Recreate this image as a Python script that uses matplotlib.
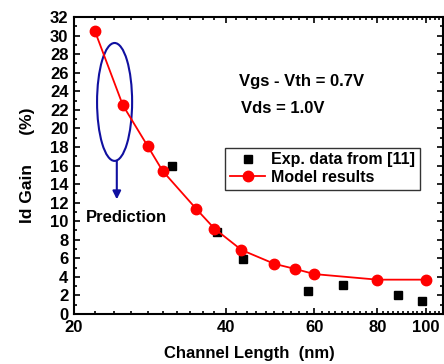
import matplotlib
matplotlib.use("Agg")
import matplotlib.pyplot as plt
from matplotlib.patches import Ellipse
from matplotlib.ticker import FixedLocator, FixedFormatter, NullFormatter, MultipleLocator

plt.rcParams['font.family'] = ['Liberation Sans', 'DejaVu Sans']
plt.rcParams['font.weight'] = 'bold'

# Donnees
model_L = [22, 25, 28, 30, 35, 38, 43, 50, 55, 60, 80, 100]
model_gain = [30.5, 22.5, 18.1, 15.4, 11.3, 9.2, 6.9, 5.4, 4.85, 4.3, 3.7, 3.7]
exp_L = [31.3, 38.5, 43.2, 58.2, 68.4, 88, 98]
exp_gain = [15.9, 8.8, 5.9, 2.5, 3.1, 2.0, 1.4]
x_ticks = [20, 40, 60, 80, 100]
x_labels = ["20", "40", "60", "80", "100"]

fig = plt.figure(figsize=(4.44, 3.64), dpi=100)
ax = fig.add_axes([74 / 444, 50 / 364, 369 / 444, 297 / 364])

ax.plot(exp_L, exp_gain, 's', color='black', markersize=6, linestyle='none',
        label='Exp. data from [11]')
ax.plot(model_L, model_gain, '-o', color='red', markersize=7.5, linewidth=1.3,
        label='Model results')

ax.set_xscale('log')
ax.set_xlim(20, 108)
ax.set_ylim(0, 32)
ax.xaxis.set_major_locator(FixedLocator(x_ticks))
ax.xaxis.set_major_formatter(FixedFormatter(x_labels))
ax.xaxis.set_minor_locator(FixedLocator(list(range(22, 108, 2))))
ax.xaxis.set_minor_formatter(NullFormatter())
ax.yaxis.set_major_locator(MultipleLocator(2))
ax.yaxis.set_minor_locator(MultipleLocator(1))

for s in ax.spines.values():
    s.set_linewidth(1.5)
ax.tick_params(which='both', direction='in', top=True, right=True, width=1.2)
ax.tick_params(which='major', length=4.5, labelsize=12, pad=4)
ax.tick_params(which='minor', length=2.5)
for lab in ax.get_xticklabels() + ax.get_yticklabels():
    lab.set_fontweight('bold')

ax.set_xlabel("Channel Length  (nm)", fontsize=12, fontweight='bold', labelpad=8)
ax.xaxis.label.set_x(0.474)
ax.set_ylabel("Id Gain      (%)", fontsize=12.5, fontweight='bold', labelpad=11)

# ellipse et fleche de prediction
ell = Ellipse((0.11, 0.714), 0.095, 0.397, transform=ax.transAxes,
              fill=False, edgecolor='#1010a0', linewidth=1.5)
ax.add_patch(ell)
ax.annotate("", xy=(0.116, 0.386), xytext=(0.116, 0.516), xycoords='axes fraction',
            arrowprops=dict(arrowstyle='-|>', color='#1010a0', lw=1.5,
                            mutation_scale=12, shrinkA=0, shrinkB=0))
ax.text(0.033, 0.325, "Prediction", transform=ax.transAxes, fontsize=12,
        fontweight='bold', va='center', ha='left')

ax.text(0.447, 0.783, "Vgs - Vth = 0.7V", transform=ax.transAxes, fontsize=12,
        fontweight='bold', va='center')
ax.text(0.452, 0.692, "Vds = 1.0V", transform=ax.transAxes, fontsize=12,
        fontweight='bold', va='center')

leg = ax.legend(loc='upper left', bbox_to_anchor=(0.41, 0.56), fontsize=11.5,
                frameon=True, fancybox=False, borderpad=0.3, labelspacing=0.15,
                handlelength=2.2, handletextpad=0.35, borderaxespad=0)
leg.get_frame().set_edgecolor('black')
leg.get_frame().set_linewidth(1.0)

fig.savefig("out.png", dpi=100)
